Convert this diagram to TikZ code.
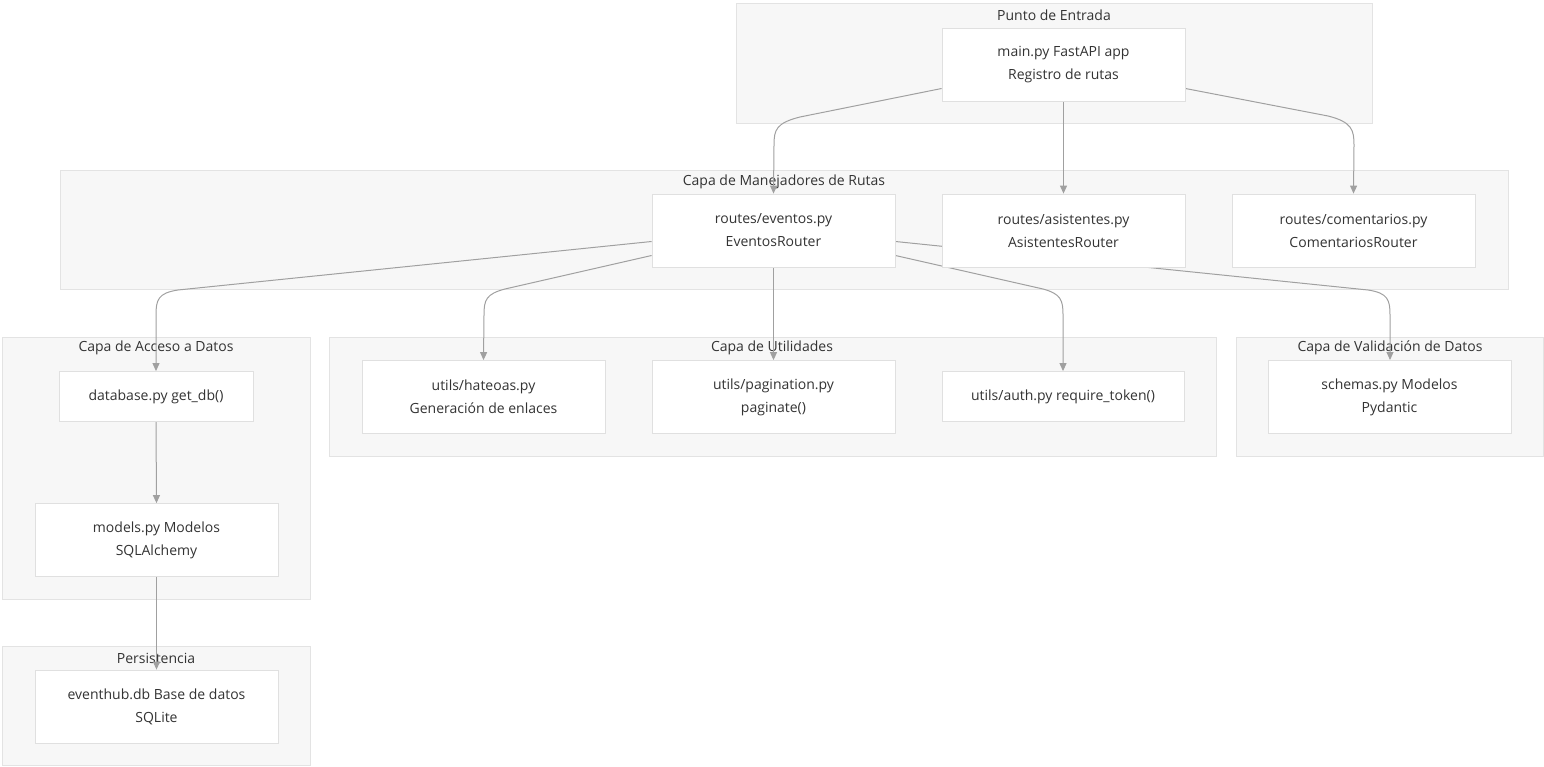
\documentclass[tikz,border=0pt]{standalone}
\usepackage{fontspec}
\setmainfont{Open Sans}
\usetikzlibrary{arrows.meta, positioning}

\definecolor{clusterfill}{HTML}{F7F7F7}
\definecolor{clusterline}{HTML}{E3E3E3}
\definecolor{boxline}{HTML}{E0E0E0}
\definecolor{edgecol}{HTML}{A0A0A0}
\definecolor{textcol}{HTML}{333333}

\pgfdeclarelayer{back}
\pgfdeclarelayer{edges}
\pgfsetlayers{back,edges,main}

\tikzset{
    cluster/.style={draw=clusterline, fill=clusterfill, line width=0.8pt},
    title/.style={text=textcol, font=\fontsize{14}{17}\selectfont, inner sep=0pt},
    box/.style={draw=boxline, fill=white, line width=0.8pt, text=textcol,
        align=center, font=\fontsize{14}{23}\selectfont,
        minimum width=243pt, minimum height=73pt, inner sep=0pt},
    flat/.style={box, minimum height=50pt},
    link/.style={draw=edgecol, line width=1pt, -{Triangle[length=8pt,width=7pt]}}
}

\begin{document}
\begin{tikzpicture}[x=1pt, y=-1pt]
    \useasboundingbox (0,0) rectangle (1544,767);

    % Boxes
    \node[box] (main) at (1063.5,64.5) {main.py FastAPI app\\Registro de rutas};

    \node[box] (eventos) at (773.5,230.5) {routes/eventos.py\\EventosRouter};
    \node[box] (asistentes) at (1063.5,230.5) {routes/asistentes.py\\AsistentesRouter};
    \node[box] (comentarios) at (1353.5,230.5) {routes/comentarios.py\\ComentariosRouter};

    \node[flat, minimum width=194pt] (database) at (156,396.5) {database.py get\_db()};
    \node[box] (models) at (156.5,540) {models.py Modelos\\SQLAlchemy};
    \node[box] (eventhub) at (156.5,706.5) {eventhub.db Base de datos\\SQLite};

    \node[box] (hateoas) at (483.5,397) {utils/hateoas.py\\Generación de enlaces};
    \node[box] (pagination) at (773.5,397) {utils/pagination.py\\paginate()};
    \node[flat, minimum width=242pt] (auth) at (1063,396.5) {utils/auth.py require\_token()};
    \node[box] (schemas) at (1389.5,397) {schemas.py Modelos\\Pydantic};

    % Clusters and their titles
    \begin{pgfonlayer}{back}
        \draw[cluster] (736,3) rectangle (1372,123);
        \draw[cluster] (60,170) rectangle (1508,289);
        \draw[cluster] (2,337) rectangle (310,599);
        \draw[cluster] (329,337) rectangle (1216,456);
        \draw[cluster] (1236,337) rectangle (1543,456);
        \draw[cluster] (2,646) rectangle (310,765);
        \node[title] (tEntrada) at (1054,15) {Punto de Entrada};
        \node[title] (tRutas) at (784,182) {Capa de Manejadores de Rutas};
        \node[title] (tAcceso) at (156,348) {Capa de Acceso a Datos};
        \node[title] (tUtil) at (772,348) {Capa de Utilidades};
        \node[title] (tValid) at (1390,348) {Capa de Validación de Datos};
        \node[title] (tPers) at (156,658) {Persistencia};
    \end{pgfonlayer}

    % Edges
    \begin{pgfonlayer}{edges}
    \draw[link] ([yshift=-24pt]main.west) -- (800,117)
        .. controls (776,123) and (774,130) .. (774,145) -- (eventos.north);
    \draw[link] (main.south) -- (asistentes.north);
    \draw[link] ([yshift=-24pt]main.east) -- (1328,116)
        .. controls (1352,122) and (1354,130) .. (1354,145) -- (comentarios.north);

    \draw[link] ([yshift=-11pt]eventos.west) -- (178,290)
        .. controls (158,293) and (156,300) .. (156,315) -- (database.north);
    \draw[link] ([yshift=-25pt]eventos.west) -- (505,289)
        .. controls (486,294) and (484,300) .. (484,315) -- (hateoas.north);
    \draw[link] (eventos.south) -- (pagination.north);
    \draw[link] ([yshift=-25pt]eventos.east) -- (1043,289)
        .. controls (1061,294) and (1063,300) .. (1063,315) -- (auth.north);
    \draw[link] ([yshift=-11pt]eventos.east) -- (1368,290)
        .. controls (1388,293) and (1390,300) .. (1390,315) -- (1390,360);

    \draw[link] (database.south) -- (models.north);
    \draw[link] (models.south) -- (eventhub.north);
    \end{pgfonlayer}
\end{tikzpicture}
\end{document}
